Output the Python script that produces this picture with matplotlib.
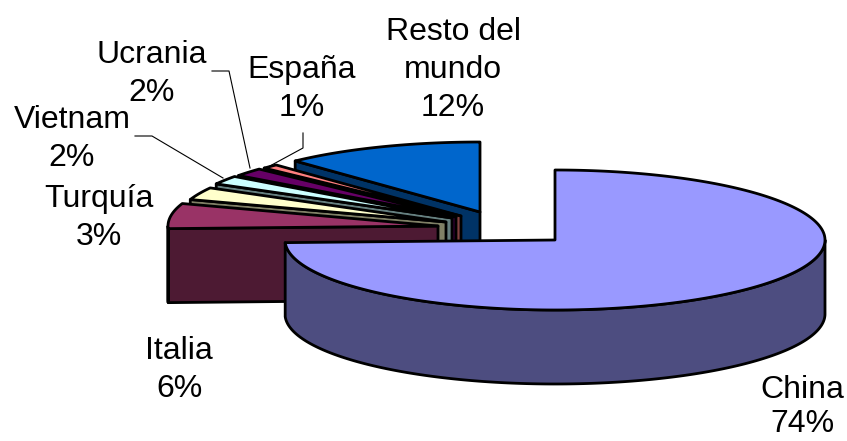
import matplotlib
matplotlib.use('Agg')
import matplotlib.pyplot as plt
import numpy as np
from matplotlib.patches import Polygon

plt.rcParams['font.family'] = ['Liberation Sans', 'DejaVu Sans']

# clockwise from 12 o'clock, same order as the chart
paises = ['China', 'Italia', 'Turquía', 'Vietnam', 'Ucrania', 'España', 'Resto del\nmundo']
valores = [74.4, 5.8, 2.9, 2.0, 1.9, 1.0, 12.0]

top_colors = ['#9999FF', '#993366', '#FFFFCC', '#CCFFFF', '#660066', '#FF8080', '#0066CC']
side_colors = ['#4D4D80', '#4D1A33', '#808066', '#668080', '#330033', '#804040', '#003366']

# where each exploded slice has its tip, in pixels
tips = [(555, 240), (438, 226), (446, 222), (452, 218), (456, 217), (461, 216), (480, 212)]
label_pos = [(802, 407), (179, 370), (99, 218), (72, 139), (152, 74), (302, 89), (453, 70)]
# China sits on the bottom edge, so its two lines are a bit closer
label_spacing = [1.17, 1.36, 1.36, 1.36, 1.36, 1.36, 1.36]
leaders = [
    [(135, 136), (152, 136), (223, 178)],
    [(212, 71), (229, 71), (250, 168)],
    [(303, 133), (303, 148), (268, 167)],
]

RX = 270
RY = 70
DEPTH = 74
LW = 2.0

fig = plt.figure(figsize=(8.47, 4.41), dpi=100)
ax = fig.add_axes([0, 0, 1, 1])
ax.set_xlim(0, 847)
ax.set_ylim(441, 0)
ax.axis('off')


def rim(tip, a):
    a = np.radians(a)
    return np.column_stack([tip[0] + RX * np.sin(a), tip[1] - RY * np.cos(a)])


def patch(pts, color, z):
    ax.add_patch(Polygon(pts, closed=True, facecolor=color, edgecolor='black',
                         linewidth=LW, joinstyle='round', zorder=z))


stops = np.cumsum([0] + valores) * 3.6

# back slices first, China last on top of everything
order = [6, 5, 4, 3, 2, 1, 0]
for z, i in enumerate(order):
    tip = tips[i]
    a0, a1 = stops[i], stops[i + 1]

    # cut face, visible on the left half
    if a0 > 180:
        p = rim(tip, np.array([a0]))[0]
        patch([p, tip, (tip[0], tip[1] + DEPTH), (p[0], p[1] + DEPTH)], side_colors[i], z * 10)

    # outer wall, only the front part of the rim shows
    lo, hi = max(a0, 90), min(a1, 270)
    if lo < hi:
        arc = rim(tip, np.linspace(lo, hi, 200))
        patch(np.vstack([arc, (arc + [0, DEPTH])[::-1]]), side_colors[i], z * 10 + 1)

    arc = rim(tip, np.linspace(a0, a1, 300))
    patch(np.vstack([[tip], arc]), top_colors[i], z * 10 + 2)

for line in leaders:
    xs, ys = zip(*line)
    ax.plot(xs, ys, color='black', lw=0.8, zorder=200)

for i, nombre in enumerate(paises):
    ax.text(label_pos[i][0], label_pos[i][1], f'{nombre}\n{valores[i]:.0f}%', ha='center', va='center',
            fontsize=23, linespacing=label_spacing[i], color='black', zorder=300)

fig.savefig('out.png', dpi=100)
